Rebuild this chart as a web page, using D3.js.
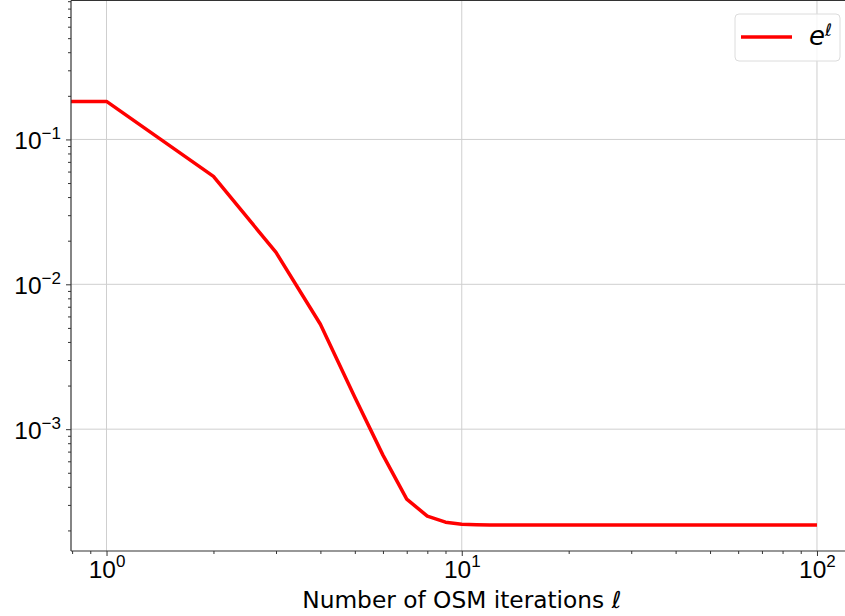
<!DOCTYPE html>
<html>
<head>
<meta charset="utf-8">
<script src="https://cdn.jsdelivr.net/npm/d3@7"></script>
<style>
  html, body { margin: 0; padding: 0; background: #fff; }
  svg { display: block; font-family: "DejaVu Sans", sans-serif; }
</style>
</head>
<body>
<div id="chart"></div>
<script>
// OSM iterations (0 is clipped to the left edge, like matplotlib's log clip)
var iterations = [0, 1, 2, 3, 4, 5, 6, 7, 8, 9, 10, 11, 12, 15, 20, 30, 50, 100];
var errValues = [0.183, 0.183, 0.0556, 0.0166, 0.0053, 0.00166, 0.000662, 0.000329,
    0.000251, 0.000228, 0.000221, 0.000219, 0.000218, 0.000218, 0.000218, 0.000218,
    0.000218, 0.000218];
var xMajor = [1, 10, 100];
var xMajorExp = ['0', '1', '2'];
var yMajor = [0.001, 0.01, 0.1];
var yMajorExp = ['\u22123', '\u22122', '\u22121'];

var svgwidth = 845, svgheight = 616;
var _margin = {top: 0.5, left: 71, right: -7.5, bottom: 65};
var w = svgwidth - _margin.left - _margin.right;
var h = svgheight - _margin.top - _margin.bottom;

var _svg = d3.select('#chart').append('svg')
    .attr('width', svgwidth)
    .attr('height', svgheight);

var g = _svg.append('g')
    .attr('transform', 'translate(' + _margin.left + ',' + _margin.top + ')');

// matplotlib-like limits
var x = d3.scaleLog().domain([Math.pow(10, -0.1), Math.pow(10, 2.1)]).range([0, w]);
var y = d3.scaleLog().domain([Math.pow(10, -3.841), Math.pow(10, -0.041)]).range([h, 0]);

var xMinor = [], yMinor = [];
[0.1, 1, 10, 100].forEach(function (p) {
    for (var m = 2; m <= 9; m++) {
        var v = m * p;
        if (v >= x.domain()[0] && v <= x.domain()[1]) xMinor.push(v);
    }
});
[0.0001, 0.001, 0.01, 0.1].forEach(function (p) {
    for (var m = 2; m <= 9; m++) {
        var v = m * p;
        if (v >= y.domain()[0] && v <= y.domain()[1]) yMinor.push(v);
    }
});

// grid
g.append('g').selectAll('line').data(xMajor).enter().append('line')
    .attr('x1', function (d) { return x(d); })
    .attr('x2', function (d) { return x(d); })
    .attr('y1', 0).attr('y2', h)
    .attr('stroke', '#cfcfcf').attr('stroke-width', 1);
g.append('g').selectAll('line').data(yMajor).enter().append('line')
    .attr('y1', function (d) { return y(d); })
    .attr('y2', function (d) { return y(d); })
    .attr('x1', 0).attr('x2', w)
    .attr('stroke', '#cfcfcf').attr('stroke-width', 1);

// data line
var line = d3.line()
    .x(function (d, i) { return iterations[i] <= 0 ? 0 : x(iterations[i]); })
    .y(function (d) { return y(d); });
g.append('path')
    .datum(errValues)
    .attr('d', line)
    .attr('fill', 'none')
    .attr('stroke', '#ff0000')
    .attr('stroke-width', 3.5)
    .attr('stroke-linejoin', 'round');

// axes
function supLabel(sel, exps) {
    sel.selectAll('text').each(function (d, i) {
        var t = d3.select(this).text('');
        t.append('tspan').text('10');
        t.append('tspan').attr('dy', '-0.6em').attr('font-size', '17px').text(exps[i]);
    });
}
var gx = g.append('g').attr('transform', 'translate(0,' + h + ')');
gx.append('g').call(d3.axisBottom(x).tickValues(xMinor).tickSize(3).tickFormat(''));
var gxM = gx.append('g').call(d3.axisBottom(x).tickValues(xMajor).tickSize(5).tickPadding(5).tickFormat(''));
gxM.selectAll('text').attr('font-size', '24.5px').attr('fill', '#000').attr('dy', '0.68em');
supLabel(gxM, xMajorExp);

var gy = g.append('g');
gy.append('g').call(d3.axisLeft(y).tickValues(yMinor).tickSize(3).tickFormat(''));
var gyM = gy.append('g').call(d3.axisLeft(y).tickValues(yMajor).tickSize(5).tickPadding(5).tickFormat(''));
gyM.selectAll('text').attr('font-size', '24.5px').attr('fill', '#000').attr('dy', '0.38em');
supLabel(gyM, yMajorExp);

_svg.selectAll('.domain').remove();
_svg.selectAll('.tick line').attr('stroke', '#333');

// spines
g.append('line').attr('x1', 0).attr('x2', 0).attr('y1', 0).attr('y2', h).attr('stroke', '#333').attr('stroke-width', 1.2);
g.append('line').attr('x1', 0).attr('x2', w).attr('y1', h).attr('y2', h).attr('stroke', '#333').attr('stroke-width', 1.2);
g.append('line').attr('x1', 0).attr('x2', w).attr('y1', 0).attr('y2', 0).attr('stroke', '#333').attr('stroke-width', 1.2);

// x label
var xl = _svg.append('text')
    .attr('x', _margin.left + w / 2)
    .attr('y', 608)
    .attr('text-anchor', 'middle')
    .attr('font-size', '23.3px')
    .attr('fill', '#000');
xl.append('tspan').text('Number of OSM iterations ');
xl.append('tspan').attr('font-style', 'italic').text('\u2113');

// legend
var lg = _svg.append('g').attr('transform', 'translate(735,14)');
lg.append('rect').attr('width', 105).attr('height', 47).attr('rx', 4)
    .attr('fill', '#fff').attr('fill-opacity', 0.8)
    .attr('stroke', '#dcdcdc').attr('stroke-width', 1);
lg.append('line').attr('x1', 6).attr('x2', 57).attr('y1', 23).attr('y2', 23)
    .attr('stroke', '#ff0000').attr('stroke-width', 3.5);
var lt = lg.append('text').attr('x', 74).attr('y', 31).attr('font-size', '26px')
    .attr('font-style', 'italic').attr('fill', '#000');
lt.append('tspan').text('e');
lt.append('tspan').attr('dy', '-0.55em').attr('font-size', '17px').text('\u2113');
</script>
</body>
</html>
